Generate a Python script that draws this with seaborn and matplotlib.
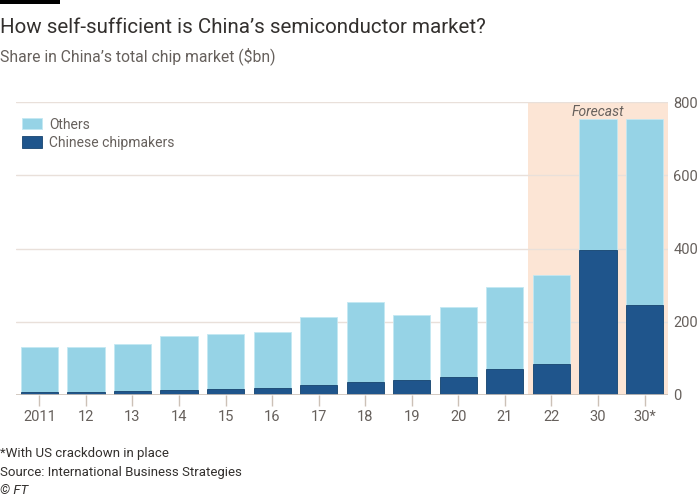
import numpy as np
import matplotlib
matplotlib.use("Agg")
import matplotlib.pyplot as plt
import seaborn as sns

# data ($bn)
years = ["2011", "12", "13", "14", "15", "16", "17", "18", "19", "20", "21", "22", "30", "30*"]
chinese = [8, 9, 12, 15, 17, 19, 28, 36, 42, 50, 70, 84, 395, 246]
others = [123, 122, 128, 146, 149, 152, 185, 218, 177, 190, 225, 244, 358, 507]
forecast_start = "22"

sns.set_theme(style="white")
plt.rcParams['font.family'] = ['Roboto', 'DejaVu Sans']

light = "#96d3e6"
dark = "#1f558c"
grey = "#66605c"
ink = "#33302e"

total = np.array(chinese) + np.array(others)

fig = plt.figure(figsize=(7, 5), dpi=100)
ax = fig.add_axes([0.023, 0.21, 0.931, 0.586])

# forecast shading
i0 = years.index(forecast_start)
ax.axvspan(i0 - 0.5, len(years) - 0.5, color="#fce5d5", zorder=0, lw=0)
ax.text((i0 - 0.5 + len(years) - 0.5) / 2, 772, "Forecast", ha="center", va="center",
        style="italic", fontsize=10, color=grey)

sns.barplot(x=years, y=total, color=light, saturation=1, width=0.8, ax=ax,
            label="Others", edgecolor="#c4e8f2", linewidth=0.6, zorder=2)
sns.barplot(x=years, y=chinese, color=dark, saturation=1, width=0.8, ax=ax,
            label="Chinese chipmakers", edgecolor="#17446f", linewidth=0.6, zorder=3)

ax.set_xlim(-0.5, len(years) - 0.5)
ax.set_ylim(0, 800)
ax.set_yticks([0, 200, 400, 600, 800])
ax.yaxis.tick_right()
ax.yaxis.set_label_position("right")
for y in [200, 400, 600, 800]:
    ax.axhline(y, color="#e9e0da", lw=1, zorder=1)
ax.axhline(0, color="#ccc1b7", lw=1.2, zorder=4)
for s in ax.spines.values():
    s.set_visible(False)
ax.tick_params(axis="y", length=0, labelsize=10.5, labelcolor=grey, pad=4)
ax.tick_params(axis="x", length=8, width=1, color="#ccc1b7", labelsize=10.5,
               labelcolor=grey, pad=3, bottom=True)
ax.set_xlabel("")
ax.set_ylabel("")

leg = ax.legend(loc="upper left", bbox_to_anchor=(0.0, 0.966), frameon=False,
                fontsize=10, handlelength=1.45, handleheight=0.9, labelspacing=0.3,
                handletextpad=0.55, borderaxespad=0, borderpad=0.4)
for t in leg.get_texts():
    t.set_color(grey)

# header and footer
fig.patches.append(plt.Rectangle((0, 0.992), 0.086, 0.008, transform=fig.transFigure,
                                 color="black", lw=0))
fig.text(0.0, 0.945, "How self-sufficient is China\u2019s semiconductor market?",
         fontsize=14.8, color=ink, va="center", ha="left")
fig.text(0.0, 0.888, "Share in China\u2019s total chip market ($bn)",
         fontsize=11.3, color=grey, va="center", ha="left")
fig.text(0.0, 0.094, "*With US crackdown in place", fontsize=9.5, color=ink, va="center")
fig.text(0.0, 0.055, "Source: International Business Strategies", fontsize=9.5, color=ink,
         va="center")
fig.text(0.0, 0.018, "\u00a9 FT", fontsize=9.5, color=ink, va="center", style="italic")

fig.savefig("out.png", dpi=100, facecolor="white")
